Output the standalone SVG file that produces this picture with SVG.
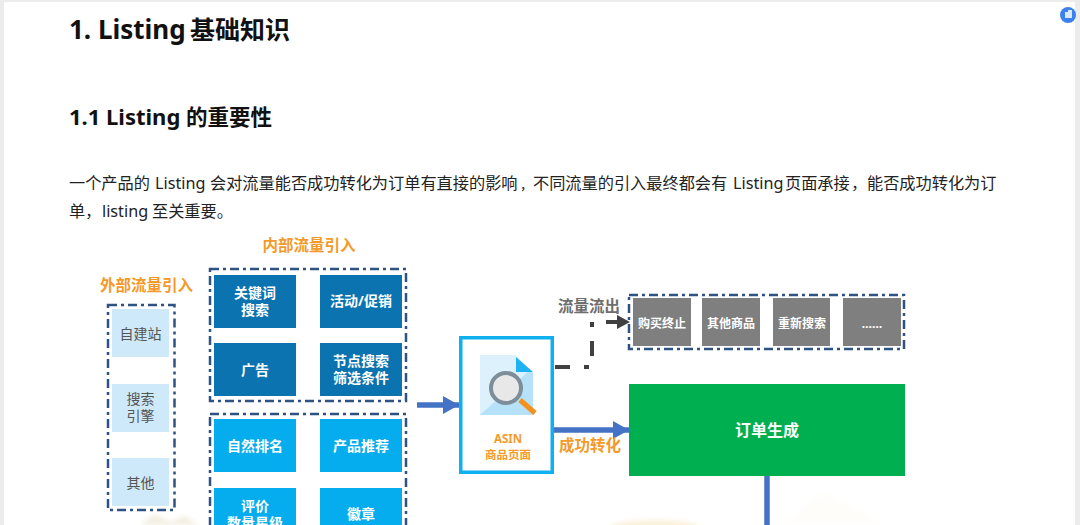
<svg xmlns="http://www.w3.org/2000/svg" width="1080" height="525" viewBox="0 0 1080 525">
<style>
text{font-family:"Noto Sans","Noto Sans CJK SC",sans-serif;text-anchor:middle}
.h{text-anchor:start;font-weight:700;fill:#111}
.p{text-anchor:start;font-size:16.200px;fill:#222}
.dash{fill:none;stroke:#2f5285;stroke-width:2.500;stroke-dasharray:9 4 3 4}
.or{fill:#f39a2b;font-weight:700;font-size:15.500px}
.w{fill:#fff;font-weight:700;font-size:14px}
.s{font-size:12px}
.g{fill:#555;font-size:14px}
.d{fill:#0a73b0}.l{fill:#06adee}.e{fill:#cde9fa}.y{fill:#7f7f7f}
.link{fill:none;stroke:#4472c4;stroke-width:5.500}
.out{fill:none;stroke:#404040;stroke-width:4;stroke-dasharray:15 14 5 14}
</style>
<defs>
<marker id="ab" markerUnits="userSpaceOnUse" markerWidth="20" markerHeight="20" refX="16" refY="9" orient="auto"><path d="M0 0L16 9L0 18Z" fill="#4472c4"/></marker>
<marker id="ad" markerUnits="userSpaceOnUse" markerWidth="16" markerHeight="16" refX="13" refY="7" orient="auto"><path d="M0 0L13 7L0 14Z" fill="#404040"/></marker>
<filter id="soft" x="-20%" y="-50%" width="140%" height="200%"><feGaussianBlur stdDeviation="2.500"/></filter>
</defs>
<rect width="1080" height="525" fill="#fff"/>
<rect width="4" height="525" fill="#ececec"/>
<rect x="1075" width="5" height="525" fill="#ececec"/>
<rect width="1080" height="2" fill="#ececec"/>
<g id="watermark" filter="url(#soft)"><path d="M140 525L155 514L170 522L185 516L198 525Z" fill="#f3eee0"/><ellipse cx="655" cy="528" rx="45" ry="8" fill="#fbf1da"/><path d="M780 525L825 492L885 525Z" fill="#fefdfa"/></g>
<g id="page-text">
<text class="h" y="39" font-size="26"><tspan x="69">1. Listing</tspan><tspan x="190" font-size="25">基础知识</tspan></text>
<text class="h" y="125" font-size="22"><tspan x="69">1.1 Listing</tspan><tspan x="186" font-size="21.500">的重要性</tspan></text>
<text class="p" y="189"><tspan x="69">一个产品的</tspan><tspan x="155">Listing</tspan><tspan x="210">会对流量能否成功转化为订单有直接的影响</tspan><tspan x="520" font-size="13">，</tspan><tspan x="533">不同流量的引入最终都会有</tspan><tspan x="733">Listing</tspan><tspan x="785">页面承接</tspan><tspan x="851">，</tspan><tspan x="867">能否成功转化为订</tspan></text>
<text class="p" y="217"><tspan x="69">单</tspan><tspan x="85">，</tspan><tspan x="102">listing</tspan><tspan x="152">至关重要。</tspan></text>
</g>
<g id="badge"><circle cx="1068" cy="15" r="8" fill="#3b82ee"/><path d="M1065 12h3v-2h4v8h-7z" fill="#dbe8fc"/></g>
<g id="external-group">
<text class="or" x="146.500" y="291">外部流量引入</text>
<rect class="dash" x="108" y="305" width="66.500" height="205"/>
</g>
<g id="ext-1"><rect class="e" x="112" y="309" width="57" height="48"/><text class="g" x="140.500" y="339">自建站</text></g>
<g id="ext-2"><rect class="e" x="112" y="384" width="57" height="48"/><text class="g" x="140.500" y="404">搜索</text><text class="g" x="140.500" y="421">引擎</text></g>
<g id="ext-3"><rect class="e" x="112" y="458" width="57" height="48"/><text class="g" x="140.500" y="488">其他</text></g>
<g id="internal-group">
<text class="or" x="309" y="251">内部流量引入</text>
<rect class="dash" x="210" y="269" width="196" height="132"/>
<rect class="dash" x="210" y="414" width="196" height="130"/>
</g>
<g id="n1"><rect class="d" x="214" y="275" width="82" height="53"/><text class="w" x="255" y="298">关键词</text><text class="w" x="255" y="315">搜索</text></g>
<g id="n2"><rect class="d" x="320" y="275" width="82" height="53"/><text class="w" x="361" y="306">活动/促销</text></g>
<g id="n3"><rect class="d" x="214" y="343" width="82" height="53"/><text class="w" x="255" y="375">广告</text></g>
<g id="n4"><rect class="d" x="320" y="343" width="82" height="53"/><text class="w" x="361" y="366">节点搜索</text><text class="w" x="361" y="383">筛选条件</text></g>
<g id="n5"><rect class="l" x="214" y="419" width="82" height="53"/><text class="w" x="255" y="451">自然排名</text></g>
<g id="n6"><rect class="l" x="320" y="419" width="82" height="53"/><text class="w" x="361" y="451">产品推荐</text></g>
<g id="n7"><rect class="l" x="214" y="488" width="82" height="53"/><text class="w" x="255" y="511">评价</text><text class="w" x="255" y="528">数量星级</text></g>
<g id="n8"><rect class="l" x="320" y="488" width="82" height="53"/><text class="w" x="361" y="519">徽章</text></g>
<g id="connectors">
<path class="link" d="M417 405H459" marker-end="url(#ab)"/>
<path class="link" d="M553 430H629" marker-end="url(#ab)"/>
<path class="out" d="M555 367H592V322H630" marker-end="url(#ad)"/>
<path class="link" d="M767 476V525"/>
</g>
<g id="asin">
<rect x="460.750" y="337.750" width="91.500" height="134.500" fill="#fff" stroke="#0fb0f0" stroke-width="3.500"/>
<path d="M480 355H515L533 373V415H480Z" fill="#b5e1f9"/>
<path d="M480 355H515L530 370L480 415Z" fill="#dcf1fc"/>
<path d="M516 357L533 372H516Z" fill="#1eb2f2"/>
<path d="M520 400L535 413" stroke="#f4901e" stroke-width="5" fill="none"/>
<circle cx="506" cy="388" r="15" fill="#e8e8e8" stroke="#7d8d99" stroke-width="4"/>
<text x="508" y="443" font-size="11.500" font-weight="700" fill="#f39a2b">ASIN</text>
<text x="508" y="459" font-size="11.500" font-weight="700" fill="#f39a2b">商品页面</text>
</g>
<g id="flow-out">
<text x="589" y="312" font-size="15.500" font-weight="700" fill="#6e6e6e">流量流出</text>
<rect class="dash" x="629" y="295" width="275" height="54"/>
</g>
<g id="o1"><rect class="y" x="633" y="298" width="58" height="48"/><text class="w s" x="662" y="328">购买终止</text></g>
<g id="o2"><rect class="y" x="702" y="298" width="58" height="48"/><text class="w s" x="731" y="328">其他商品</text></g>
<g id="o3"><rect class="y" x="773" y="298" width="57" height="48"/><text class="w s" x="802" y="328">重新搜索</text></g>
<g id="o4"><rect class="y" x="843" y="298" width="58" height="48"/><text class="w s" x="872" y="328">……</text></g>
<g id="order"><rect x="629" y="384" width="276" height="92" fill="#00b050"/><text class="w" x="767" y="436" style="font-size:16px">订单生成</text></g>
<text class="or" x="590" y="451">成功转化</text>
</svg>
